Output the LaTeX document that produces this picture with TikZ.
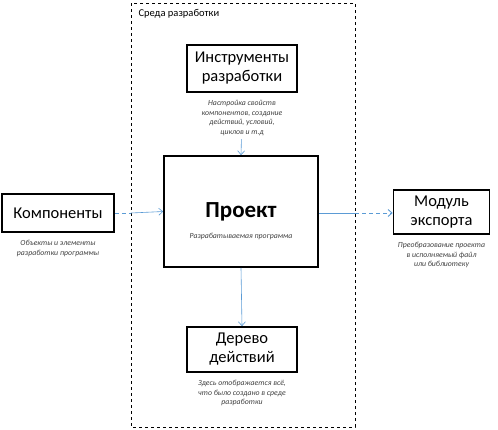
\documentclass[tikz,border=0pt]{standalone}
\usepackage{fontspec}
\setmainfont{Carlito}
\usetikzlibrary{arrows.meta,positioning}

\definecolor{linkblue}{RGB}{91,155,213}

\begin{document}
\begin{tikzpicture}[
x=1pt, y=-1pt,
node distance=4pt and 0pt,
box/.style={draw, line width=1.6pt, align=center, inner sep=0pt, font=\fontsize{16.5}{19}\selectfont},
note/.style={align=center, font=\fontsize{7.8}{9.6}\selectfont\itshape, text=black!75},
link/.style={-{Straight Barb[length=4pt,width=7pt]}, draw=linkblue, line width=0.6pt},
dlink/.style={draw=linkblue, line width=0.9pt, dash pattern=on 4pt off 3pt}
]
\useasboundingbox (0,0) rectangle (498,429);

% development environment
\draw[dashed, line width=0.6pt] (131,3) rectangle (355,427);
\coordinate (envl) at (131,213);
\coordinate (envr) at (355,213);
\node[anchor=west, font=\fontsize{10.5}{12}\selectfont] (envtitle) at (135,14) {Среда разработки};

\node[box, minimum width=110pt, minimum height=47pt] (tools) at (242,68.5) {Инструменты\\разработки};
\node[note, below=of tools] (toolsnote) {Настройка свойств\\компонентов, создание\\действий, условий,\\циклов и т.д};

\node[box, minimum width=154pt, minimum height=111pt] (proj) at (241,211.5) {};
\node[font=\fontsize{23}{25}\selectfont\bfseries] (projtitle) at (241,212) {Проект};
\node[note] (projnote) at (241,236) {Разрабатываемая программа};

\node[box, minimum width=110pt, minimum height=45pt] (tree) at (242,349.5) {Дерево\\действий};
\node[note, below=of tree] (treenote) {Здесь отображается всё,\\что было создано в среде\\разработки};

\node[box, minimum width=112pt, minimum height=38pt] (comp) at (58,213) {Компоненты};
\node[note, below=of comp] (compnote) {Объекты и элементы\\разработки программы};

\node[box, minimum width=96pt, minimum height=44pt] (export) at (441.5,212) {Модуль\\экспорта};
\node[note, below=of export] (exportnote) {Преобразование проекта\\в исполняемый файл\\или библиотеку};

\draw[link] (toolsnote) -- (proj.north);
\draw[link] (proj.south) -- (tree.north);
\draw[dlink] (comp.east) -- (envl);
\draw[link] (envl) -- (proj.west);
\draw[link, -] (proj.east |- envr) -- (envr);
\draw[dlink, -{Straight Barb[length=4pt,width=7pt]}] (envr) -- (export.west |- envr);
\end{tikzpicture}
\end{document}
